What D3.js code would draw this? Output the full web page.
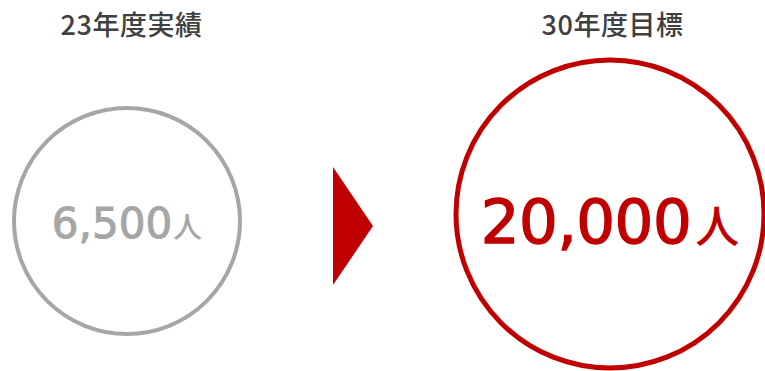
<!DOCTYPE html>
<html>
<head>
<meta charset="utf-8">
<script src="https://cdn.jsdelivr.net/npm/d3@7"></script>
<style>
  body { margin: 0; background: #fff; }
  svg { display: block; }
</style>
</head>
<body>
<div id="chart"></div>
<script>
// chart values
const titles = ["23年度実績", "30年度目標"];
const values = [6500, 20000];
const units = ["人", "人"];
const colors = ["#a6a6a6", "#c00000"];

const width = 765, height = 371;

const svg = d3.select("#chart").append("svg")
    .attr("width", width)
    .attr("height", height);

// layout for each circle
const layout = [
    { cx: 127, cy: 221, r: 113, sw: 4, numSize: 42, numStroke: 1, unitSize: 29, unitDx: 1, ls: 0, base: 238, titleX: 131.5 },
    { cx: 610, cy: 214, r: 154, sw: 5, numSize: 61, numStroke: 1.4, unitSize: 44, unitDx: 4, ls: -0.5, base: 243, titleX: 612.5 }
];

const fmt = d3.format(",");
const cjk = "'Noto Sans CJK JP', sans-serif";
const num = "'DejaVu Sans', 'Noto Sans CJK JP', sans-serif";

const nodes = values.map((v, i) => ({
    title: titles[i],
    value: v,
    unit: units[i],
    color: colors[i],
    ...layout[i]
}));

// circles
svg.selectAll("circle.ring")
    .data(nodes)
    .enter()
    .append("circle")
    .attr("class", "ring")
    .attr("cx", d => d.cx)
    .attr("cy", d => d.cy)
    .attr("r", d => d.r)
    .attr("fill", "none")
    .attr("stroke", d => d.color)
    .attr("stroke-width", d => d.sw);

// titles
svg.selectAll("text.title")
    .data(nodes)
    .enter()
    .append("text")
    .attr("class", "title")
    .attr("x", d => d.titleX)
    .attr("y", 35)
    .attr("text-anchor", "middle")
    .attr("fill", "#404040")
    .style("font-family", cjk)
    .style("font-size", "27px")
    .style("font-weight", "500")
    .style("letter-spacing", "0.5px")
    .text(d => d.title);

// value labels
const labels = svg.selectAll("text.value")
    .data(nodes)
    .enter()
    .append("text")
    .attr("class", "value")
    .attr("x", d => d.cx)
    .attr("y", d => d.base)
    .attr("text-anchor", "middle")
    .attr("fill", d => d.color);

labels.append("tspan")
    .style("font-family", num)
    .style("font-size", d => d.numSize + "px")
    .style("letter-spacing", d => d.ls + "px")
    .attr("stroke", d => d.color)
    .attr("stroke-width", d => d.numStroke)
    .text(d => fmt(d.value));

labels.append("tspan")
    .attr("dx", d => d.unitDx)
    .style("font-family", cjk)
    .style("font-size", d => d.unitSize + "px")
    .style("font-weight", "500")
    .text(d => d.unit);

// arrow between the two
svg.append("path")
    .attr("d", d3.line()([[333, 167], [373, 226], [333, 285]]) + "Z")
    .attr("fill", "#c00000");
</script>
</body>
</html>
